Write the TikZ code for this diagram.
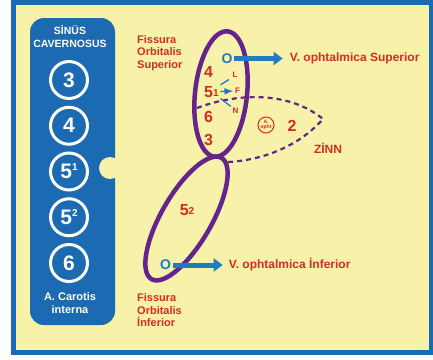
\documentclass[tikz,border=0pt]{standalone}
\usepackage{fontspec}
\setsansfont{Liberation Sans}
\usetikzlibrary{arrows.meta,positioning}
\definecolor{panelblue}{RGB}{27,106,178}
\definecolor{paper}{RGB}{247,241,169}
\definecolor{lab}{RGB}{212,45,35}
\definecolor{ring}{RGB}{100,36,140}
\definecolor{vein}{RGB}{34,122,192}
\newcommand{\upidx}[1]{\raisebox{8pt}{\fontsize{10}{10}\selectfont #1}}
\newcommand{\lowidx}[1]{\raisebox{1pt}{\fontsize{10}{10}\selectfont #1}}

\begin{document}
\begin{tikzpicture}[x=1pt,y=-1pt,>=Latex,font=\sffamily\bfseries,
 fissure/.style={text=lab,align=left,inner sep=0pt,anchor=west,font=\sffamily\bfseries\fontsize{11}{12.5}\selectfont},
 vname/.style={text=lab,inner sep=0pt,font=\sffamily\bfseries\fontsize{12}{14}\selectfont},
 num/.style={text=lab,inner sep=0pt,anchor=base west,font=\sffamily\bfseries\fontsize{16}{16}\selectfont},
 panel/.style={text=white,align=center,inner sep=0pt,font=\sffamily\bfseries\fontsize{10.5}{13}\selectfont},
 nrv/.style={circle,draw=white,line width=3pt,text=white,minimum size=37pt,inner sep=0pt,font=\sffamily\bfseries\fontsize{21}{21}\selectfont},
 ostium/.style={text=vein,inner sep=0pt,font=\sffamily\bfseries\fontsize{14}{14}\selectfont},
 branch/.style={text=lab,inner sep=0pt,font=\sffamily\bfseries\fontsize{8}{8}\selectfont},
 nerve/.style={vein,line width=1.3pt},
 orbit/.style={ring,line width=4.5pt},
 zinn/.style={ring,line width=2.2pt,dash pattern=on 5pt off 4pt},
 veinarrow/.style={vein,line width=5pt,-{Triangle[length=9pt,width=13pt]}}]
\useasboundingbox (0,0) rectangle (433,359);
\fill[white] (0,0) rectangle (433,359);
\draw[panelblue,line width=5pt,fill=paper] (13,2) rectangle (431,352);
% sinus cavernosus
\fill[panelblue,rounded corners=14pt] (30,18) rectangle (115,325);
\fill[paper] (110,168) circle[radius=11];
\node[panel] (sinus) at (70,36.5) {SİNÜS\\CAVERNOSUS};
\foreach \v [count=\i] in {3,4,{5\upidx{1}},{5\upidx{2}},6}
  \node[nrv] (c\i) at (69,{80+45.75*(\i-1)}) {\v};
\node[panel,font=\sffamily\bfseries\fontsize{11}{13}\selectfont] (carotis) at (70,303.5) {A. Carotis\\interna};
% orbita
\draw[orbit] (221,94) ellipse [x radius=63pt,y radius=26pt,rotate=84];
\draw[orbit] (186.5,218.5) ellipse [x radius=70pt,y radius=25pt,rotate=60];
\draw[zinn] (197,108) .. controls (240,92) and (290,92) .. (323,119)
  .. controls (300,145) and (265,160) .. (228,162);
\node[fissure] (fos) at (137,53) {Fissura\\Orbitalis\\Superior};
\node[fissure] (foi) at (137,310.5) {Fissura\\Orbitalis\\İnferior};
\node[num] (n4) at (204,77) {4};
\node[num] (n51) at (204,97) {5\lowidx{1}};
\node[num] (n6) at (204,122) {6};
\node[num] (n3) at (204,145) {3};
\node[branch] (L) at (235,74.5) {L};
\node[branch] (F) at (237.5,91) {F};
\node[branch] (N) at (235.5,110.5) {N};
\draw[nerve,shorten <=2pt,shorten >=4pt] (n51.north east) -- (L.south west);
\draw[nerve,->,shorten <=1.5pt,shorten >=1.5pt] (n51.east) -- (F.west);
\draw[nerve,shorten <=2pt,shorten >=2pt] (n51.south east) -- (N.north west);
\node[ostium] (o1) at (227,58.5) {O};
\node[vname,right=57pt of o1] (vs) {V. ophtalmica Superior};
\draw[veinarrow,shorten <=1pt,shorten >=7pt] (o1.east) -- (vs.west);
\node[num,anchor=center] (n52) at (187,210) {5\lowidx{2}};
\node[ostium] (o2) at (165.5,265) {O};
\node[vname,right=57.5pt of o2] (vi) {V. ophtalmica İnferior};
\draw[veinarrow,shorten <=2pt,shorten >=6pt] (o2.east) -- (vi.west);
\node[circle,draw=lab,line width=1pt,minimum size=16pt,inner sep=0pt,align=center,text=lab,
  font=\sffamily\bfseries\fontsize{5}{5.5}\selectfont] (aopht) at (266,125) {A.\\opht};
\node[num,anchor=center] (two) at (292,126) {2};
\node[vname] (zinnlbl) at (328,148) {ZİNN};
\end{tikzpicture}
\end{document}
